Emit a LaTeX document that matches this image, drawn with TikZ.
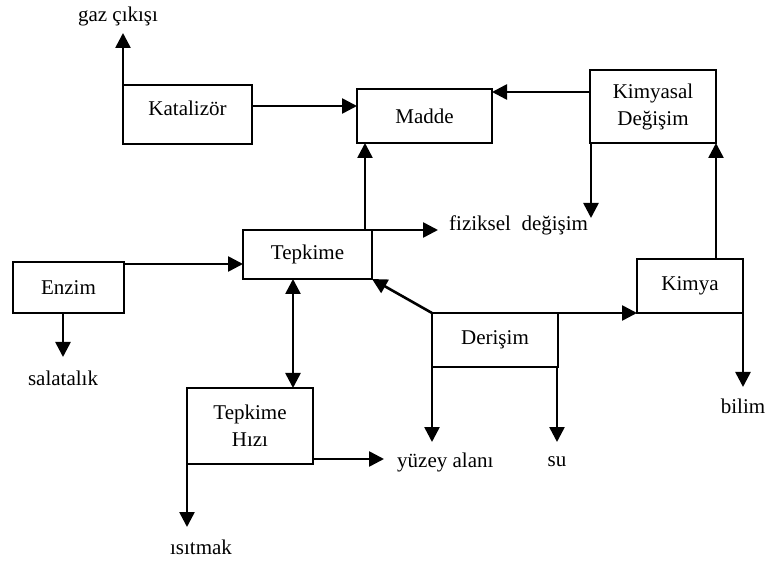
\documentclass[tikz,border=0pt]{standalone}
\usepackage{fontspec}
\setmainfont{Liberation Serif}
\usetikzlibrary{arrows.meta,calc}
\begin{document}
\begin{tikzpicture}[x=1pt,y=-1pt,
  font=\fontsize{21}{27}\selectfont,
  box/.style={draw,line width=2.2pt,inner sep=0pt,outer sep=0pt,align=center},
  lbl/.style={inner sep=0pt},
  arr/.style={line width=2.6pt,-{Triangle[length=15pt,width=15pt]}},
  dbl/.style={line width=2.6pt,{Triangle[length=15pt,width=15pt]}-{Triangle[length=15pt,width=15pt]}}]
\useasboundingbox (0,0) rectangle (766,561);
% boxes
\node[box,minimum width=129pt,minimum height=59pt] (kat) at (187.5,114.5) {\raisebox{6pt}[\height][\depth]{Katalizör}};
\node[box,minimum width=135pt,minimum height=54pt] (madde) at (424.5,116) {Madde};
\node[box,minimum width=126pt,minimum height=73pt] (kd) at (653,106.5) {Kimyasal\\Değişim};
\node[box,minimum width=129pt,minimum height=49pt] (tep) at (307.5,254.5) {Tepkime};
\node[box,minimum width=111pt,minimum height=51pt] (enz) at (68.5,287.5) {Enzim};
\node[box,minimum width=126pt,minimum height=76pt] (hiz) at (250,426) {Tepkime\\Hızı};
\node[box,minimum width=126pt,minimum height=54pt] (der) at (495,340) {Derişim};
\node[box,minimum width=106pt,minimum height=54pt] (kim) at (690,286) {Kimya};
% labels
\node[lbl] (gaz) at (118,16) {gaz çıkışı};
\node[lbl,anchor=west] (fiz) at (449,225) {fiziksel\ \ değişim};
\node[lbl] (sal) at (63,378) {salatalık};
\node[lbl] (isi) at (201,547) {ısıtmak};
\node[lbl,anchor=west] (yuz) at (397,462) {yüzey alanı};
\node[lbl] (su) at (557,462) {su};
\node[lbl] (bil) at (743,406) {bilim};
% arrow end points
\coordinate (gazt) at (123,33);
\coordinate (fizt) at (591,218);
\coordinate (fizh) at (438,230);
\coordinate (salt) at (63,357);
\coordinate (yuzh) at (384,459);
\coordinate (isit) at (187,527);
\coordinate (yuzt) at (432,442);
\coordinate (sut) at (557,442);
\coordinate (bilt) at (743,387);
% connectors
\draw[arr] (kat.north west) -- (gazt);
\draw[arr] ([yshift=8.5pt]kat.east) -- ([yshift=8.5pt]kat.east -| madde.west);
\draw[arr] ([yshift=14.5pt]kd.west) -- ([yshift=14.5pt]kd.west -| madde.east);
\draw[arr] ([xshift=1pt]kd.south west) -- (fizt);
\draw[arr] ([xshift=57.5pt]tep.north) -- ([xshift=57.5pt]tep.north |- madde.south);
\draw[arr] (tep.north east) -- (fizh);
\draw[arr] (kd.south east |- kim.north) -- (kd.south east);
\draw[arr] ([yshift=23.5pt]enz.east) -- ([yshift=23.5pt]enz.east -| tep.west);
\draw[arr] ([xshift=-5.5pt]enz.south) -- (salt);
\draw[dbl] ([xshift=-14.5pt]tep.south) -- ([xshift=-14.5pt]tep.south |- hiz.north);
\draw[arr] ([yshift=-33pt]hiz.east) -- (yuzh);
\draw[arr] (hiz.south west) -- (isit);
\draw[arr] (der.north west) -- (tep.south east);
\draw[arr] (der.north east) -- (kim.south west);
\draw[arr] (der.south west) -- (yuzt);
\draw[arr] ([xshift=-1pt]der.south east) -- (sut);
\draw[arr] (kim.south east) -- (bilt);
\end{tikzpicture}
\end{document}
